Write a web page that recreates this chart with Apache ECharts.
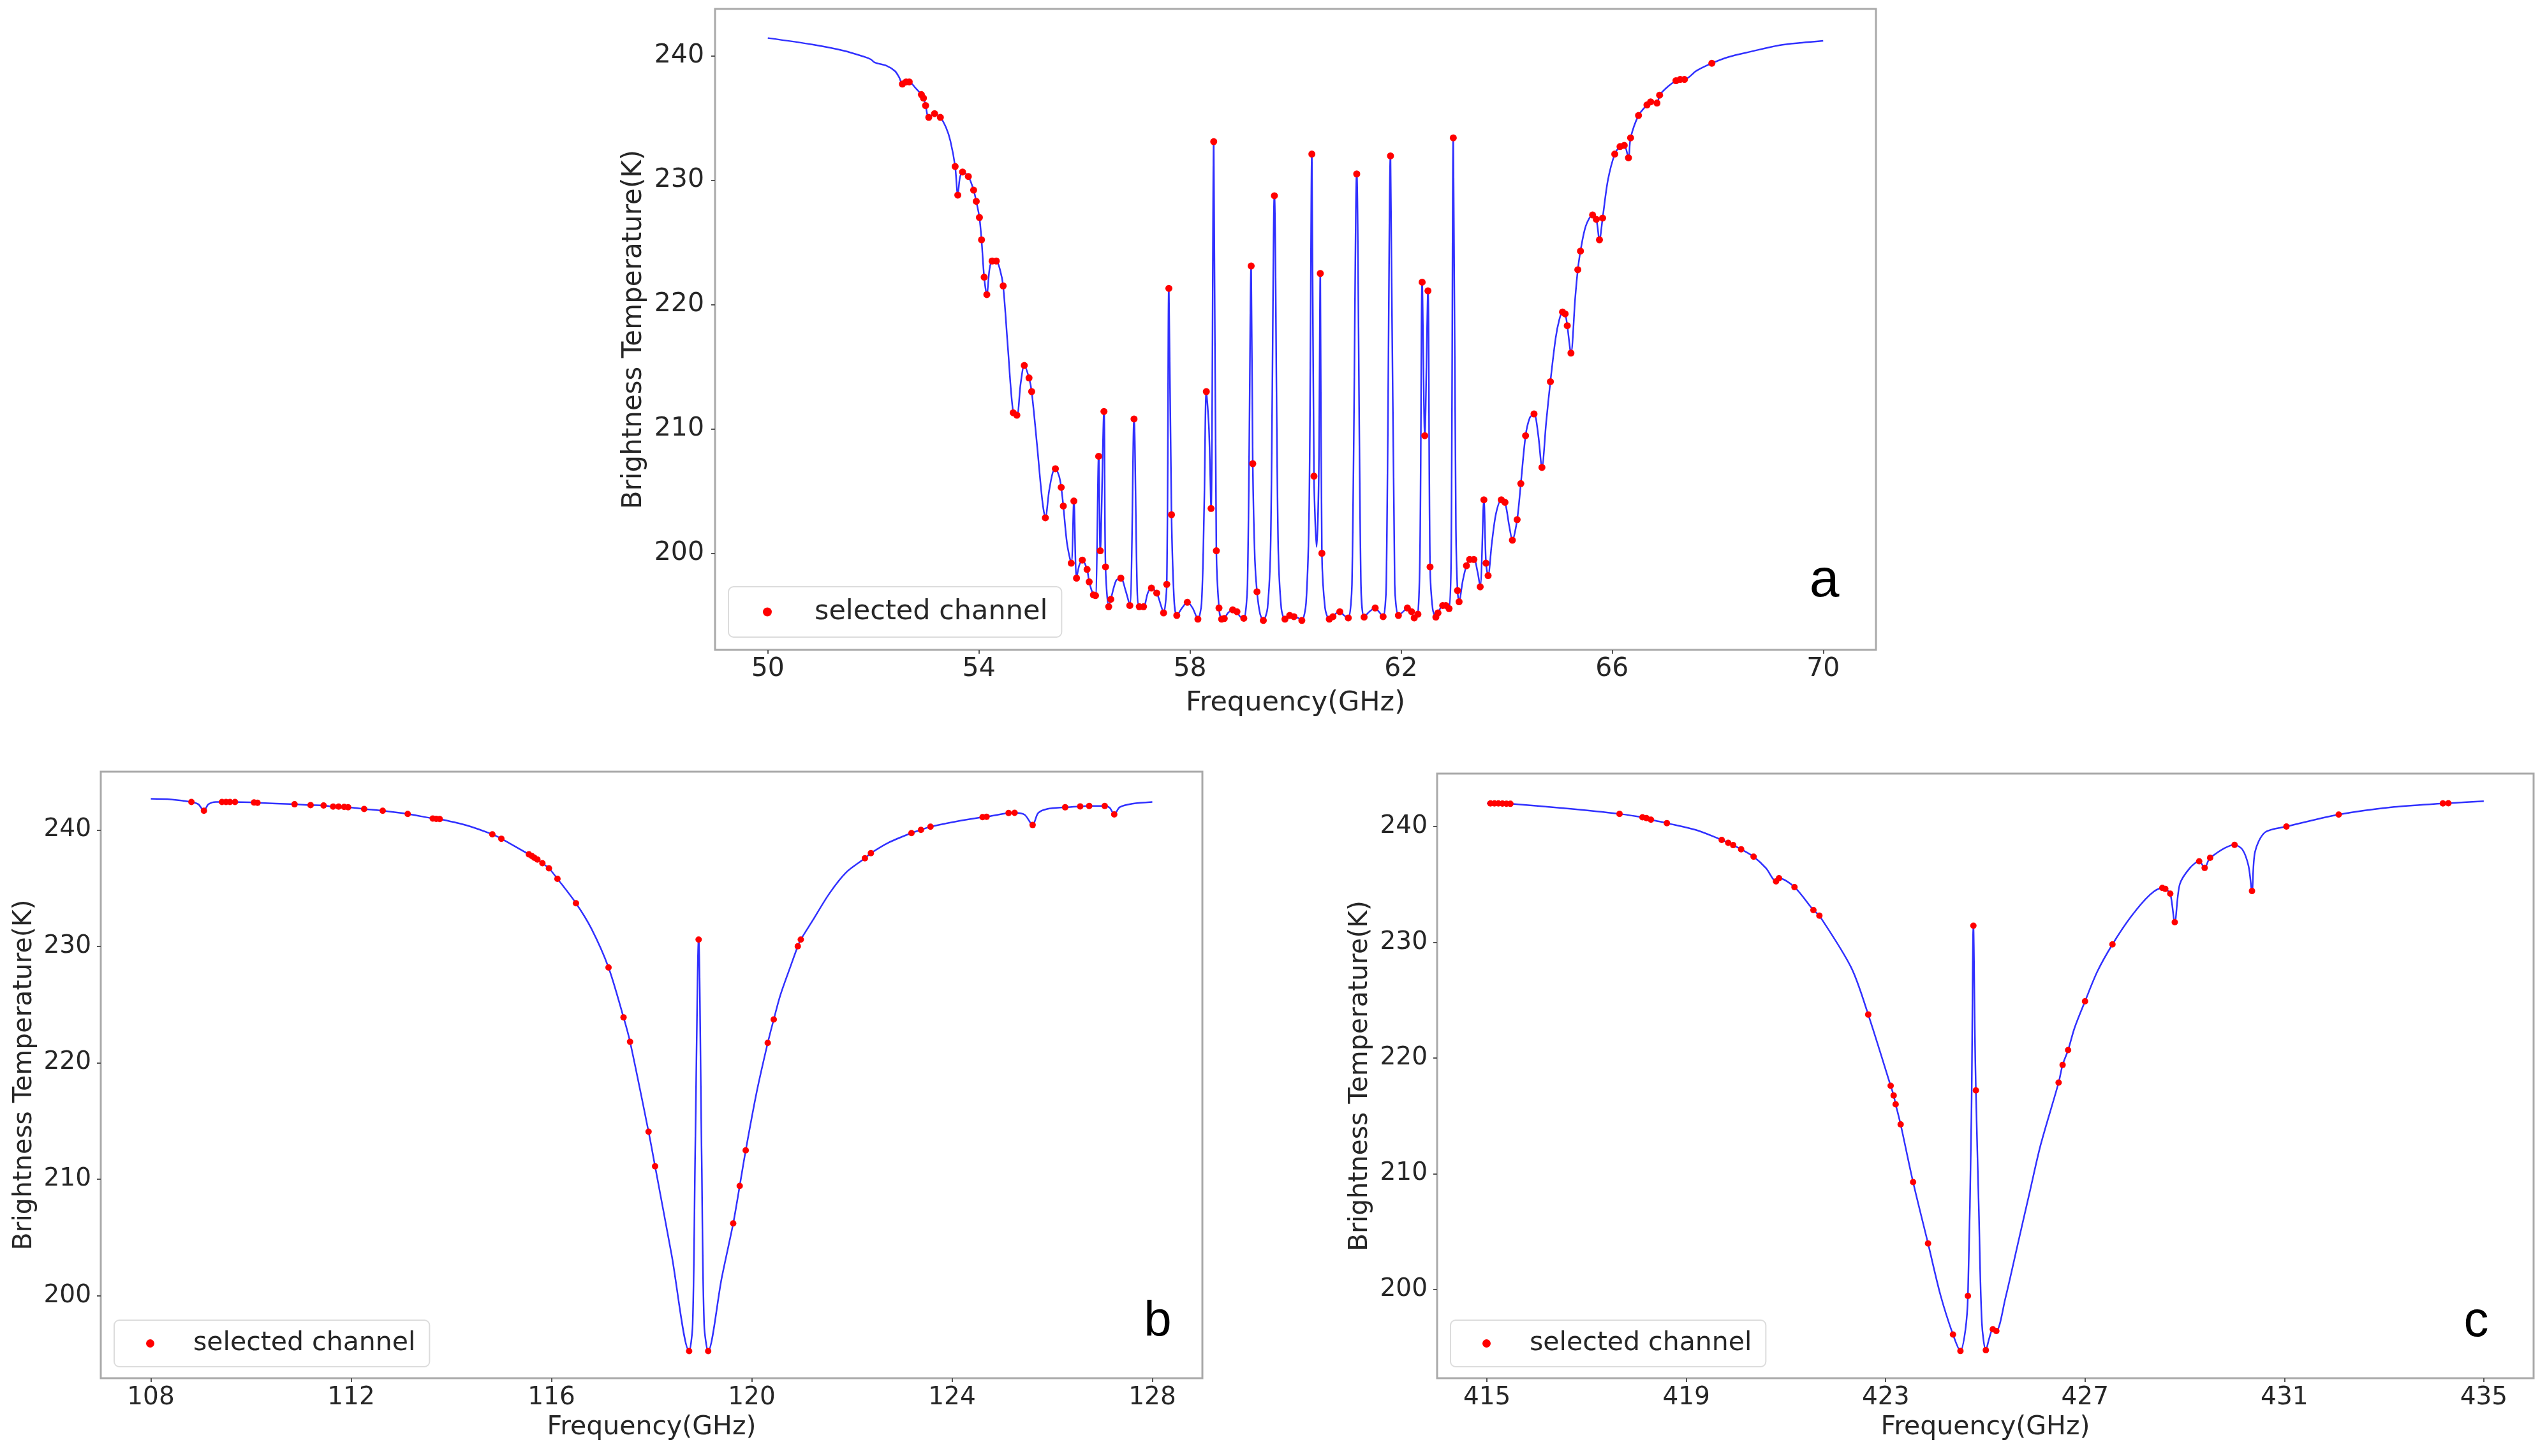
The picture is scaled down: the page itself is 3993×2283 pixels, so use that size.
<!DOCTYPE html>
<html>
<head>
<meta charset="utf-8">
<script src="https://cdn.jsdelivr.net/npm/echarts@6/dist/echarts.min.js"></script>
<style>
html,body{margin:0;padding:0;background:#fff;}
#chart{width:3993px;height:2283px;}
</style>
</head>
<body>
<div id="chart"></div>
<script>
// ---------- tick labels ----------
var ticksAx = [50, 54, 58, 62, 66, 70];
var ticksBx = [108, 112, 116, 120, 124, 128];
var ticksCx = [415, 419, 423, 427, 431, 435];
var ticksY = [200, 210, 220, 230, 240];

// ---------- panel a : 50-70 GHz ----------
var lineA = [
[50.0,241.43],[50.84,240.91],[51.45,240.4],[51.85,239.89],[51.95,239.72],[52.03,239.46],[52.25,239.2],
[52.41,238.77],[52.49,238.26],
[52.55,237.73],[52.62,237.9],[52.68,237.9],[52.8,237.4],[52.91,236.88],[52.95,236.6],[52.99,236.0],
[53.05,235.05],[53.16,235.35],[53.27,235.05],[53.38,234.2],[53.46,233.15],[53.55,231.1],[53.6,228.8],
[53.64,230.2],[53.69,230.66],[53.8,230.3],[53.9,229.2],[53.95,228.3],[54.01,227.0],[54.05,225.2],
[54.1,222.2],[54.15,220.8],[54.2,222.8],[54.25,223.5],[54.33,223.5],[54.4,222.8],[54.46,221.5],
[54.55,216.5],[54.65,211.3],[54.72,211.1],[54.79,213.6],[54.86,215.1],[54.95,214.1],[55.0,213.0],
[55.1,208.8],[55.2,204.3],[55.26,202.85],[55.33,205.0],[55.4,206.5],[55.45,206.8],[55.52,206.2],
[55.56,205.3],[55.6,203.8],[55.67,200.8],[55.75,199.2],[55.8,204.2],[55.85,198.0],[55.9,199.0],
[55.96,199.45],[56.05,198.7],[56.09,197.7],[56.17,196.65],[56.21,196.6],[56.27,207.8],[56.3,200.2],
[56.37,211.4],[56.4,198.9],[56.46,195.7],[56.5,196.3],[56.6,197.8],[56.69,198.0],[56.78,197.0],
[56.86,195.8],[56.94,210.8],[57.0,197.0],[57.04,195.7],[57.12,195.7],[57.2,196.8],[57.27,197.2],
[57.37,196.8],[57.45,195.8],[57.5,195.2],[57.56,197.5],[57.6,221.3],[57.65,203.1],[57.7,196.2],
[57.75,195.0],[57.85,195.6],[57.95,196.06],[58.05,195.6],[58.15,194.7],[58.22,196.0],[58.27,204.0],
[58.31,213.0],[58.36,210.0],[58.4,203.6],[58.45,233.1],[58.5,200.2],[58.55,195.6],[58.6,194.7],
[58.65,194.75],[58.72,195.2],[58.81,195.45],[58.89,195.3],[58.95,194.9],[59.02,194.77],[59.09,197.5],
[59.16,223.1],[59.19,207.2],[59.23,199.5],[59.27,196.9],[59.33,195.1],[59.39,194.6],[59.47,195.6],
[59.53,201.0],[59.6,228.75],[59.67,201.0],[59.73,195.6],[59.8,194.7],[59.89,195.0],[59.97,194.9],
[60.05,194.8],[60.12,194.6],[60.2,196.0],[60.26,204.0],[60.31,232.1],[60.35,206.2],[60.4,200.5],
[60.44,206.0],[60.47,222.5],[60.5,200.0],[60.56,195.6],[60.64,194.7],[60.71,194.9],[60.78,195.2],
[60.84,195.3],[60.92,195.0],[61.0,194.8],[61.07,197.5],[61.16,230.5],[61.24,197.5],[61.3,194.87],
[61.4,195.3],[61.51,195.6],[61.58,195.3],[61.66,194.9],[61.72,197.5],[61.8,231.95],[61.88,197.5],
[61.95,195.0],[62.04,195.3],[62.12,195.6],[62.2,195.3],[62.25,194.8],[62.32,195.1],[62.36,200.5],
[62.4,221.8],[62.45,209.45],[62.51,221.1],[62.55,198.9],[62.6,195.5],[62.66,194.87],[62.7,195.2],
[62.79,195.8],[62.85,195.8],[62.91,195.55],[62.95,200.0],[62.99,233.4],[63.04,202.0],[63.07,197.0],
[63.1,196.1],[63.17,197.8],[63.24,199.0],[63.3,199.5],[63.38,199.5],[63.45,198.5],[63.5,197.3],
[63.57,204.3],[63.61,199.2],[63.65,198.2],[63.72,200.8],[63.8,203.2],[63.9,204.3],[63.97,204.1],
[64.05,202.2],[64.11,201.05],[64.2,202.7],[64.27,205.6],[64.36,209.45],[64.44,210.9],[64.52,211.2],
[64.6,209.5],[64.67,206.9],[64.75,210.5],[64.83,213.8],[64.93,217.3],[65.0,218.8],[65.06,219.4],
[65.11,219.25],[65.15,218.3],[65.22,216.1],[65.3,220.5],[65.35,222.8],[65.4,224.3],[65.5,226.3],
[65.63,227.2],[65.7,226.85],[65.76,225.2],[65.82,226.95],[65.92,230.0],[66.05,232.1],[66.15,232.7],
[66.23,232.8],[66.31,231.8],[66.35,233.4],[66.5,235.2],[66.66,236.05],[66.73,236.3],[66.85,236.2],
[66.9,236.84],[67.05,237.5],[67.21,238.0],[67.29,238.1],[67.37,238.1],[67.6,238.8],[67.89,239.4],
[68.2,239.9],[68.63,240.34],[69.17,240.85],[69.6,241.05],[70.0,241.2]
];
var selA = [
[52.55,237.73],[52.62,237.9],[52.68,237.9],[52.91,236.88],[52.95,236.6],[52.99,236.0],[53.05,235.05],
[53.16,235.35],[53.27,235.05],[53.55,231.1],[53.6,228.8],[53.69,230.66],[53.8,230.3],[53.9,229.2],
[53.95,228.3],[54.01,227.0],[54.05,225.2],[54.1,222.2],[54.15,220.8],[54.25,223.5],[54.33,223.5],
[54.46,221.5],[54.65,211.3],[54.72,211.1],[54.86,215.1],[54.95,214.1],[55.0,213.0],[55.26,202.85],
[55.45,206.8],[55.56,205.3],[55.6,203.8],[55.75,199.2],[55.8,204.2],[55.85,198.0],[55.96,199.45],
[56.05,198.7],[56.09,197.7],[56.17,196.65],[56.21,196.6],[56.27,207.8],[56.3,200.2],[56.37,211.4],
[56.4,198.9],[56.46,195.7],[56.5,196.3],[56.69,198.0],[56.86,195.8],[56.94,210.8],[57.04,195.7],
[57.12,195.7],[57.27,197.2],[57.37,196.8],[57.5,195.2],[57.56,197.5],[57.6,221.3],[57.65,203.1],
[57.75,195.0],[57.95,196.06],[58.15,194.7],[58.31,213.0],[58.4,203.6],[58.45,233.1],[58.5,200.2],
[58.55,195.6],[58.6,194.7],[58.65,194.75],[58.81,195.45],[58.89,195.3],[59.02,194.77],[59.16,223.1],
[59.19,207.2],[59.27,196.9],[59.39,194.6],[59.6,228.75],[59.8,194.7],[59.89,195.0],[59.97,194.9],
[60.12,194.6],[60.31,232.1],[60.35,206.2],[60.47,222.5],[60.5,200.0],[60.64,194.7],[60.71,194.9],
[60.84,195.3],[61.0,194.8],[61.16,230.5],[61.3,194.87],[61.51,195.6],[61.66,194.9],[61.8,231.95],
[61.95,195.0],[62.12,195.6],[62.2,195.3],[62.25,194.8],[62.32,195.1],[62.4,221.8],[62.45,209.45],
[62.51,221.1],[62.55,198.9],[62.66,194.87],[62.7,195.2],[62.79,195.8],[62.85,195.8],[62.91,195.55],
[62.99,233.4],[63.07,197.0],[63.1,196.1],[63.24,199.0],[63.3,199.5],[63.38,199.5],[63.5,197.3],
[63.57,204.3],[63.61,199.2],[63.65,198.2],[63.9,204.3],[63.97,204.1],[64.11,201.05],[64.2,202.7],
[64.27,205.6],[64.36,209.45],[64.52,211.2],[64.67,206.9],[64.83,213.8],[65.06,219.4],[65.11,219.25],
[65.15,218.3],[65.22,216.1],[65.35,222.8],[65.4,224.3],[65.63,227.2],[65.7,226.85],[65.76,225.2],
[65.82,226.95],[66.05,232.1],[66.15,232.7],[66.23,232.8],[66.31,231.8],[66.35,233.4],[66.5,235.2],
[66.66,236.05],[66.73,236.3],[66.85,236.2],[66.9,236.84],[67.21,238.0],[67.29,238.1],[67.37,238.1],
[67.89,239.4]
];

// ---------- panel b : 108-128 GHz ----------
var lineB = [
[108.0,242.67],[108.4,242.62],[108.81,242.4],[108.95,242.2],[109.06,241.64],[109.15,242.2],[109.3,242.4],
[109.42,242.4],[109.5,242.4],[109.58,242.4],[109.68,242.4],[110.06,242.35],[110.13,242.33],[110.87,242.2],
[111.19,242.13],[111.45,242.1],[111.64,242.0],[111.75,242.0],[111.86,241.97],[111.94,241.95],[112.26,241.8],
[112.63,241.64],[113.13,241.37],[113.63,240.98],[113.7,240.95],[113.77,240.93],[114.3,240.4],[114.82,239.62],
[115.0,239.24],[115.55,237.9],[115.61,237.75],[115.66,237.6],[115.72,237.45],[115.82,237.14],[115.95,236.7],
[116.12,235.8],[116.49,233.7],[116.8,231.5],[117.14,228.18],[117.44,223.9],[117.57,221.8],[117.94,214.07],
[118.07,211.1],[118.4,203.5],[118.75,195.23],[118.82,197.5],[118.87,212.0],[118.94,230.58],[119.0,212.0],
[119.05,197.5],[119.13,195.23],[119.4,201.5],[119.63,206.2],[119.76,209.42],[119.88,212.47],[120.1,217.5],
[120.32,221.7],[120.44,223.72],[120.57,225.78],[120.78,228.34],[120.92,230.0],[120.98,230.58],[121.21,232.17],
[121.55,234.53],[121.89,236.36],[122.26,237.56],[122.38,238.0],[122.73,238.9],[123.19,239.73],[123.38,240.0],
[123.57,240.27],[124.09,240.73],[124.61,241.1],[124.69,241.13],[125.13,241.45],[125.25,241.47],[125.45,241.3],
[125.61,240.42],[125.72,241.45],[125.9,241.8],[126.26,241.94],[126.56,242.02],[126.74,242.06],[127.05,242.06],
[127.15,241.9],[127.24,241.33],[127.35,241.95],[127.6,242.25],[128.0,242.4]
];
var selB = [
[108.81,242.4],[109.06,241.64],[109.42,242.4],[109.5,242.4],[109.58,242.4],[109.68,242.4],[110.06,242.35],
[110.13,242.33],[110.87,242.2],[111.19,242.13],[111.45,242.1],[111.64,242.0],[111.75,242.0],[111.86,241.97],
[111.94,241.95],[112.26,241.8],[112.63,241.64],[113.13,241.37],[113.63,240.98],[113.7,240.95],[113.77,240.93],
[114.82,239.62],[115.0,239.24],[115.55,237.9],[115.61,237.75],[115.66,237.6],[115.72,237.45],[115.82,237.14],
[115.95,236.7],[116.12,235.8],[116.49,233.7],[117.14,228.18],[117.44,223.9],[117.57,221.8],[117.94,214.07],
[118.07,211.1],[118.75,195.23],[118.94,230.58],[119.13,195.23],[119.63,206.2],[119.76,209.42],[119.88,212.47],
[120.32,221.7],[120.44,223.72],[120.92,230.0],[120.98,230.58],[122.26,237.56],[122.38,238.0],[123.19,239.73],
[123.38,240.0],[123.57,240.27],[124.61,241.1],[124.69,241.13],[125.13,241.45],[125.25,241.47],[125.61,240.42],
[126.26,241.94],[126.56,242.02],[126.74,242.06],[127.05,242.06],[127.24,241.33]
];

// ---------- panel c : 415-435 GHz ----------
var lineC = [
[415.0,242.0],[415.07,242.0],[415.15,242.0],[415.23,242.0],[415.31,241.99],[415.39,241.98],[415.47,241.97],
[416.5,241.6],[417.66,241.1],[418.12,240.8],[418.2,240.73],[418.29,240.6],[418.61,240.3],[419.2,239.7],
[419.71,238.85],[419.84,238.6],[419.94,238.4],[420.1,238.04],[420.35,237.4],[420.6,236.4],[420.8,235.27],
[420.86,235.54],[421.17,234.77],[421.55,232.78],[421.67,232.3],[422.31,227.8],[422.65,223.75],[423.1,217.6],
[423.16,216.76],[423.2,216.0],[423.3,214.26],[423.55,209.27],[423.85,203.97],[424.1,199.5],[424.35,196.1],
[424.5,194.67],[424.6,196.5],[424.65,199.43],[424.72,215.0],[424.76,231.43],[424.79,222.0],[424.81,217.2],
[424.87,206.7],[424.93,197.1],[425.01,194.74],[425.08,195.8],[425.15,196.55],[425.22,196.4],[425.4,199.2],
[425.65,203.9],[425.9,208.6],[426.11,212.5],[426.47,217.87],[426.55,219.4],[426.66,220.68],[426.79,222.6],
[427.0,224.9],[427.25,227.5],[427.55,229.82],[427.92,232.2],[428.3,234.1],[428.55,234.7],[428.61,234.62],
[428.71,234.2],[428.8,231.74],[428.9,235.0],[429.1,236.4],[429.29,237.0],[429.4,236.43],[429.51,237.3],
[430.0,238.42],[430.16,238.0],[430.28,236.6],[430.35,234.43],[430.41,237.8],[430.61,239.5],[431.04,240.0],
[432.09,241.04],[433.2,241.7],[434.18,242.0],[434.29,242.02],[435.0,242.19]
];
var selC = [
[415.07,242.0],[415.15,242.0],[415.23,242.0],[415.31,241.99],[415.39,241.98],[415.47,241.97],[417.66,241.1],
[418.12,240.8],[418.2,240.73],[418.29,240.6],[418.61,240.3],[419.71,238.85],[419.84,238.6],[419.94,238.4],
[420.1,238.04],[420.35,237.4],[420.8,235.27],[420.86,235.54],[421.17,234.77],[421.55,232.78],[421.67,232.3],
[422.65,223.75],[423.1,217.6],[423.16,216.76],[423.2,216.0],[423.3,214.26],[423.55,209.27],[423.85,203.97],
[424.35,196.1],[424.5,194.67],[424.65,199.43],[424.76,231.43],[424.81,217.2],[425.01,194.74],[425.15,196.55],
[425.22,196.4],[426.47,217.87],[426.55,219.4],[426.66,220.68],[427.0,224.9],[427.55,229.82],[428.55,234.7],
[428.61,234.62],[428.71,234.2],[428.8,231.74],[429.29,237.0],[429.4,236.43],[429.51,237.3],[430.0,238.42],
[430.35,234.43],[431.04,240.0],[432.09,241.04],[434.18,242.0],[434.29,242.02]
];

var FONT = 'DejaVu Sans';
var TXT = '#262626';
var FRAME = '#a9a9a9';
var LINE_BLUE = '#3030ff';
var DOT_RED = '#ff0000';

function xAxisCfg(idx, min, max, ticks, fs, lfs, margin, gap) {
  return {
    type: 'value', gridIndex: idx, min: min, max: max,
    name: 'Frequency(GHz)', nameLocation: 'middle', nameGap: gap,
    nameTextStyle: {fontFamily: FONT, fontSize: lfs, color: TXT},
    axisLine: {show: false},
    splitLine: {show: false},
    axisTick: {show: true, inside: false, length: 6, customValues: ticks, lineStyle: {color: '#555', width: 2}},
    axisLabel: {show: true, customValues: ticks, margin: margin, fontFamily: FONT, fontSize: fs, color: TXT}
  };
}
function yAxisCfg(idx, min, max, fs, lfs, margin, gap) {
  return {
    type: 'value', gridIndex: idx, min: min, max: max,
    name: 'Brightness Temperature(K)', nameLocation: 'middle', nameGap: gap, nameRotate: 90,
    nameTextStyle: {fontFamily: FONT, fontSize: lfs, color: TXT},
    axisLine: {show: false},
    splitLine: {show: false},
    axisTick: {show: true, inside: false, length: 6, customValues: ticksY, lineStyle: {color: '#555', width: 2}},
    axisLabel: {show: true, customValues: ticksY, margin: margin, fontFamily: FONT, fontSize: fs, color: TXT}
  };
}
function gridCfg(l, t, w, h) {
  return {left: l, top: t, width: w, height: h, show: true, borderColor: FRAME, borderWidth: 3,
          backgroundColor: 'transparent', containLabel: false, outerBoundsMode: 'none'};
}
function lineSeries(i, data) {
  return {type: 'line', name: 'spectrum', xAxisIndex: i, yAxisIndex: i, data: data,
          showSymbol: false, symbol: 'none', smooth: 0.3, z: 2,
          lineStyle: {color: LINE_BLUE, width: 2.5}, itemStyle: {color: LINE_BLUE}};
}
function dotSeries(i, data, size) {
  return {type: 'scatter', name: 'selected channel', xAxisIndex: i, yAxisIndex: i, data: data,
          symbol: 'circle', symbolSize: size, z: 3, itemStyle: {color: DOT_RED, opacity: 1}};
}
function legendCfg(l, t, pad, fs, textPad, icon) {
  return {
    show: true, data: ['selected channel'], left: l, top: t, orient: 'horizontal',
    padding: pad, itemWidth: icon, itemHeight: icon, icon: 'circle', selectedMode: false,
    backgroundColor: '#ffffff', borderColor: '#dcdcdc', borderWidth: 2, borderRadius: 8,
    textStyle: {fontFamily: FONT, fontSize: fs, color: TXT, padding: [0, 0, 0, textPad], lineHeight: fs + 2}
  };
}

var chart = echarts.init(document.getElementById('chart'), null, {renderer: 'canvas'});
chart.setOption({
  backgroundColor: '#ffffff',
  animation: false,
  grid: [
    gridCfg(1121, 14, 1820, 1005),
    gridCfg(158, 1210, 1727, 951),
    gridCfg(2253, 1213, 1719, 948)
  ],
  xAxis: [
    xAxisCfg(0, 49, 71, ticksAx, 41, 43, 10, 62),
    xAxisCfg(1, 107, 129, ticksBx, 39, 41, 11, 57),
    xAxisCfg(2, 414, 436, ticksCx, 39, 41, 11, 57)
  ],
  yAxis: [
    yAxisCfg(0, 192.23, 243.77, 41, 42, 17, 106),
    yAxisCfg(1, 192.9, 245.0, 39, 41, 15, 99),
    yAxisCfg(2, 192.32, 244.58, 39, 41, 15, 100)
  ],
  legend: [
    legendCfg(1142, 920, [17, 22, 17, 54], 43, 62, 14),
    legendCfg(179, 2070, [15, 22, 15, 50], 41, 56, 13),
    legendCfg(2274, 2070, [15, 22, 15, 50], 41, 56, 13)
  ],
  series: [
    lineSeries(0, lineA), dotSeries(0, selA, 11),
    lineSeries(1, lineB), dotSeries(1, selB, 10),
    lineSeries(2, lineC), dotSeries(2, selC, 10)
  ],
  graphic: [
    {type: 'text', x: 2860, y: 912, z: 10, style: {text: 'a', font: '84px "Liberation Sans"', fill: '#000', align: 'center', verticalAlign: 'middle'}},
    {type: 'text', x: 1815, y: 2073, z: 10, style: {text: 'b', font: '78px "Liberation Sans"', fill: '#000', align: 'center', verticalAlign: 'middle'}},
    {type: 'text', x: 3882, y: 2073, z: 10, style: {text: 'c', font: '78px "Liberation Sans"', fill: '#000', align: 'center', verticalAlign: 'middle'}}
  ]
});
</script>
</body>
</html>
